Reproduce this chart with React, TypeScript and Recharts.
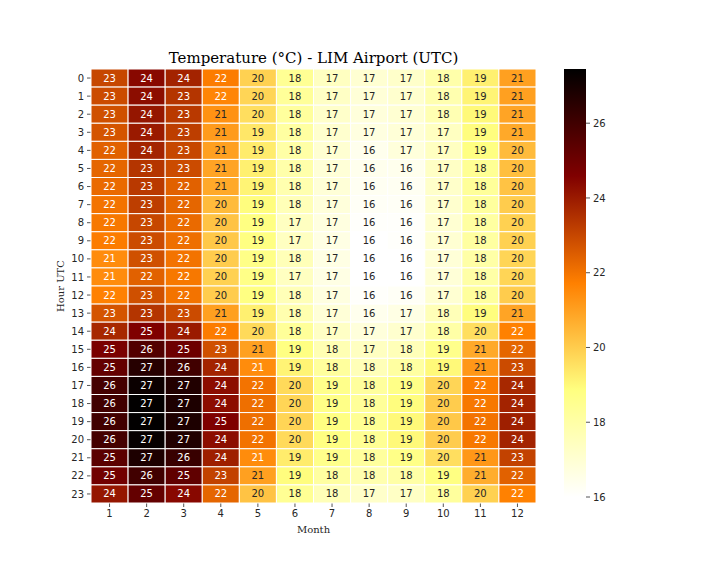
import React from "react";
import {
  ScatterChart,
  Scatter,
  XAxis,
  YAxis,
  Label,
  BarChart,
  Bar,
} from "recharts";

const months = [1, 2, 3, 4, 5, 6, 7, 8, 9, 10, 11, 12];
const hours = Array.from({ length: 24 }, (_, i) => i);

// mean temperature per hour (0..23 UTC), one array per month
const jan = [23.0, 22.9, 22.8, 22.7, 22.4, 22.3, 22.2, 22.0, 21.9, 21.8, 21.45, 21.45, 21.7, 22.7, 23.7, 24.7, 25.2, 25.9, 26.0, 26.0, 25.9, 25.4, 24.9, 24.1];
const feb = [24.4, 24.3, 24.1, 24.0, 23.8, 23.4, 23.3, 23.2, 23.0, 22.9, 22.8, 22.4, 22.8, 23.4, 24.6, 25.6, 26.6, 27.2, 27.4, 27.4, 27.3, 26.8, 26.0, 25.2];
const mar = [23.8, 23.4, 23.3, 23.2, 23.0, 22.9, 22.4, 22.3, 22.2, 22.1, 22.0, 21.9, 22.0, 22.9, 24.0, 25.0, 26.0, 26.7, 26.8, 26.8, 26.7, 26.2, 25.3, 24.4];
const apr = [21.8, 21.6, 21.3, 21.1, 21.0, 20.9, 20.8, 20.4, 20.2, 20.1, 20.0, 19.9, 20.0, 21.0, 21.8, 22.8, 23.8, 24.3, 24.3, 24.6, 24.3, 23.9, 23.1, 22.3];
const may = [19.9, 19.8, 19.6, 19.4, 19.3, 19.2, 19.1, 18.9, 18.8, 18.8, 18.7, 18.7, 18.8, 19.2, 19.7, 21.0, 21.45, 22.0, 22.1, 22.1, 22.0, 21.45, 21.0, 20.2];
const jun = [18.4, 18.3, 18.2, 18.1, 18.0, 17.9, 17.8, 17.6, 17.4, 17.4, 17.6, 17.4, 17.6, 17.8, 18.3, 18.8, 19.1, 19.7, 19.8, 19.8, 19.7, 19.3, 18.9, 18.4];
const jul = [17.4, 17.3, 17.2, 17.1, 17.0, 16.9, 16.9, 16.8, 16.7, 16.6, 16.6, 16.6, 16.7, 16.9, 17.3, 17.7, 18.2, 18.6, 18.7, 18.8, 18.8, 18.6, 18.1, 17.6];
const aug = [17.0, 16.9, 16.8, 16.7, 16.4, 16.4, 16.3, 16.2, 16.1, 16.0, 16.0, 16.0, 16.1, 16.4, 16.8, 17.4, 17.6, 18.2, 18.3, 18.4, 18.4, 18.2, 17.8, 17.2];
const sep = [17.2, 17.1, 17.0, 16.9, 16.8, 16.4, 16.3, 16.2, 16.1, 16.1, 16.0, 16.0, 16.2, 16.6, 17.1, 17.6, 18.1, 18.7, 18.9, 19.0, 19.0, 18.7, 18.0, 17.3];
const oct = [17.9, 17.8, 17.7, 17.4, 17.4, 17.3, 17.2, 17.1, 17.0, 17.0, 16.9, 16.9, 17.0, 17.6, 18.0, 18.6, 19.0, 19.8, 20.0, 20.1, 20.0, 19.6, 18.8, 18.2];
const nov = [19.2, 19.1, 19.0, 18.9, 18.8, 18.4, 18.3, 18.2, 18.1, 18.1, 18.0, 18.0, 18.2, 18.9, 19.6, 20.8, 21.2, 21.8, 21.9, 22.0, 21.9, 21.2, 20.7, 19.9];
const dec = [21.0, 21.0, 20.9, 20.8, 20.4, 20.3, 20.2, 20.0, 19.9, 19.9, 19.8, 19.8, 20.0, 20.9, 21.7, 22.3, 22.9, 23.7, 23.8, 23.9, 23.8, 23.1, 22.4, 21.7];

const byMonth = [jan, feb, mar, apr, may, jun, jul, aug, sep, oct, nov, dec];
const colorbarTicks = [16, 18, 20, 22, 24, 26];
const VMIN = 16;
const VMAX = 27.45;

const cells = months.flatMap((m, mi) =>
  hours.map((h) => ({ month: m, hour: h, value: byMonth[mi][h] }))
);

// afmhot_r
function rgbFor(v: number): [number, number, number] {
  const t = Math.min(1, Math.max(0, (v - VMIN) / (VMAX - VMIN)));
  const x = 1 - t;
  const c = (n: number) => Math.min(1, Math.max(0, n));
  return [c(2 * x), c(2 * x - 0.5), c(2 * x - 1)];
}
const toHex = ([r, g, b]: [number, number, number]) =>
  `rgb(${Math.round(r * 255)},${Math.round(g * 255)},${Math.round(b * 255)})`;

function textColor(rgb: [number, number, number]) {
  const lin = rgb.map((c) => (c <= 0.03928 ? c / 12.92 : Math.pow((c + 0.055) / 1.055, 2.4)));
  const lum = 0.2126 * lin[0] + 0.7152 * lin[1] + 0.0722 * lin[2];
  return lum > 0.408 ? "#262626" : "#ffffff";
}

const PLOT_W = 445;
const PLOT_H = 434;
const CW = PLOT_W / months.length;
const CH = PLOT_H / hours.length;

const HeatCell = (props: any) => {
  const { cx, cy, payload } = props;
  const rgb = rgbFor(payload.value);
  return (
    <g>
      <rect x={cx - CW / 2} y={cy - CH / 2} width={CW} height={CH} fill={toHex(rgb)} stroke="#ffffff" strokeWidth={1} />
      <text
        x={cx}
        y={cy}
        textAnchor="middle"
        dominantBaseline="central"
        fontSize={10}
        fontFamily="DejaVu Sans"
        fill={textColor(rgb)}
      >
        {payload.value.toFixed(0)}
      </text>
    </g>
  );
};

const tickStyle = { fontSize: 10, fill: "#262626", fontFamily: "DejaVu Sans" };

export default function App() {
  return (
    <div style={{ position: "absolute", left: 0, top: 0, width: 720, height: 576, background: "#fff" }}>
      <div
        style={{
          position: "absolute",
          left: 91,
          width: PLOT_W,
          top: 50,
          textAlign: "center",
          fontFamily: "DejaVu Serif",
          fontSize: 15,
          lineHeight: "16px",
          color: "#000",
        }}
      >
        Temperature (°C) - LIM Airport (UTC)
      </div>
      <div style={{ position: "absolute", left: 0, top: 0 }}>
        <ScatterChart width={720} height={576} margin={{ top: 69, right: 184, bottom: 33, left: 51 }}>
          <XAxis
            type="number"
            dataKey="month"
            domain={[0.5, 12.5]}
            ticks={months}
            interval={0}
            axisLine={false}
            tickLine={{ stroke: "#555" }}
            tickSize={4}
            tickMargin={3}
            tick={tickStyle}
            height={40}
          >
            <Label value="Month" position="insideBottom" offset={10} style={{ fontFamily: "DejaVu Serif", fontSize: 10, fill: "#262626" }} />
          </XAxis>
          <YAxis
            type="number"
            dataKey="hour"
            domain={[-0.5, 23.5]}
            reversed
            ticks={hours}
            interval={0}
            axisLine={false}
            tickLine={{ stroke: "#555" }}
            tickSize={4}
            tickMargin={3}
            tick={tickStyle}
            width={40}
          >
            <Label
              value="Hour UTC"
              angle={-90}
              position="insideLeft"
              offset={9}
              style={{ fontFamily: "DejaVu Serif", fontSize: 10, fill: "#262626", textAnchor: "middle" }}
            />
          </YAxis>
          <Scatter data={cells} shape={HeatCell} isAnimationActive={false} />
        </ScatterChart>
      </div>
      <div style={{ position: "absolute", left: 0, top: 0 }}>
        <BarChart
          width={720}
          height={576}
          data={[{ name: "cb", range: [VMIN, VMAX] }]}
          margin={{ top: 69, right: 94, bottom: 79, left: 564 }}
          barCategoryGap={0}
        >
          <defs>
            <linearGradient id="cbar" x1="0" y1="0" x2="0" y2="1">
              <stop offset="0" stopColor="rgb(0,0,0)" />
              <stop offset="0.25" stopColor="rgb(128,0,0)" />
              <stop offset="0.5" stopColor="rgb(255,128,0)" />
              <stop offset="0.75" stopColor="rgb(255,255,128)" />
              <stop offset="1" stopColor="rgb(255,255,255)" />
            </linearGradient>
          </defs>
          <XAxis dataKey="name" hide />
          <YAxis
            orientation="right"
            type="number"
            domain={[VMIN, VMAX]}
            ticks={colorbarTicks}
            interval={0}
            axisLine={false}
            tickLine={{ stroke: "#555" }}
            tickSize={4}
            tickMargin={3}
            tick={tickStyle}
            width={40}
            allowDataOverflow
          />
          <Bar dataKey="range" fill="url(#cbar)" isAnimationActive={false} />
        </BarChart>
      </div>
    </div>
  );
}
